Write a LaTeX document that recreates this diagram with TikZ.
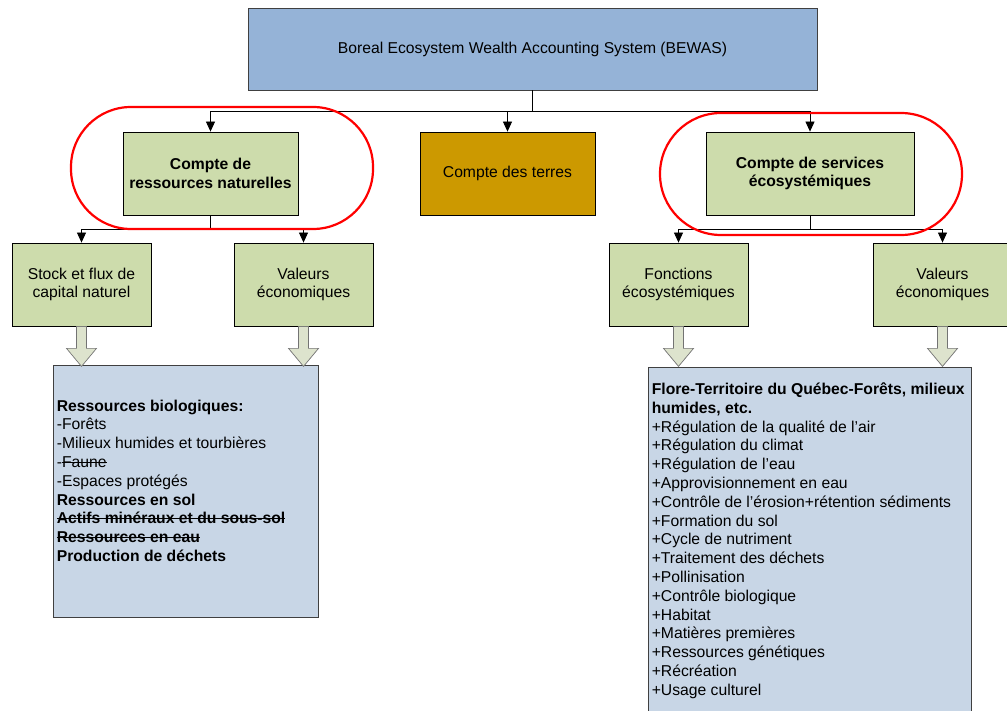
\documentclass[tikz,border=0pt]{standalone}
\usepackage{fontspec}
\setmainfont{Liberation Sans}
\usepackage{tikz}
\usetikzlibrary{arrows.meta,calc}

\definecolor{headblue}{RGB}{149,179,215}
\definecolor{acctgreen}{RGB}{205,220,172}
\definecolor{landgold}{RGB}{204,153,0}
\definecolor{listblue}{RGB}{200,214,230}
\definecolor{fatfill}{RGB}{221,227,205}

% struck-out text
\newcommand{\strikeout}[1]{\begingroup\setbox0\hbox{#1}\rlap{\rule[0.3em]{\wd0}{1.1pt}}\box0\endgroup}

% wide hollow arrow below a box
\newcommand{\fatarrow}[1]{%
  \draw[fatstyle] ($(#1.south)+(-5,0)$) -- ++(0,22) -- ++(-10,0) -- ++(15,18)
    -- ++(15,-18) -- ++(-10,0) -- ++(0,-22) -- cycle;}

\begin{document}
\begin{tikzpicture}[x=1pt, y=-1pt,
  font=\fontsize{15.7}{18.8}\selectfont,
  box/.style={draw=black, line width=0.8pt, align=center, inner sep=0pt},
  greenbox/.style={box, fill=acctgreen, minimum width=139pt, minimum height=83pt},
  listbox/.style={draw=black!75, line width=0.8pt, fill=listblue},
  listtext/.style={align=left, inner sep=0pt, anchor=north west},
  link/.style={line width=0.8pt, -{Triangle[length=10pt,width=9pt]}},
  fatstyle/.style={draw=black!55, line width=0.7pt, fill=fatfill},
  redloop/.style={draw=red, line width=2.2pt}]
  \useasboundingbox (0,0) rectangle (1007,711);

  % Top level
  \node[box, draw=black!75, fill=headblue, minimum width=569pt, minimum height=82pt] (top) at (532.5,49)
    {Boreal Ecosystem Wealth Accounting System (BEWAS)};

  % Accounts
  \node[greenbox, minimum width=175pt, font=\fontsize{15.7}{18.8}\selectfont\bfseries] (crn) at (210.5,173.5)
    {Compte de\\ressources naturelles};
  \node[box, fill=landgold, minimum width=175pt, minimum height=83pt] (terres) at (507.5,173.5)
    {Compte des terres};
  \node[greenbox, minimum width=208pt, font=\fontsize{15.7}{18.8}\selectfont\bfseries] (cse) at (810,173.5)
    {Compte de services\\écosystémiques};

  % Sub-accounts
  \node[greenbox] (stock) at (81.5,284.5) {Stock et flux de\\capital naturel};
  \node[greenbox] (valL) at (303.5,284.5) {Valeurs\\économiques};
  \node[greenbox] (fonc) at (678.5,284.5) {Fonctions\\écosystémiques};
  \node[greenbox] (valR) at (942.5,284.5) {Valeurs\\économiques};

  % Lists
  \node[listbox, minimum width=265pt, minimum height=252pt] (listL) at (185.5,491) {};
  \node[listbox, minimum width=323pt, minimum height=356pt] (listR) at (809.5,545) {};
  \node[listtext] (listLtext) at ($(listL.north west)+(4,35)$) {%
    \textbf{Ressources biologiques:}\\
    -Forêts\\
    -Milieux humides et tourbières\\
    -\strikeout{Faune}\\
    -Espaces protégés\\
    \textbf{Ressources en sol}\\
    \textbf{\strikeout{Actifs minéraux et du sous-sol}}\\
    \textbf{\strikeout{Ressources en eau}}\\
    \textbf{Production de déchets}};
  \node[listtext] (listRtext) at ($(listR.north west)+(4,16)$) {%
    \textbf{Flore-Territoire du Québec-Forêts, milieux}\\
    \textbf{humides, etc.}\\
    +Régulation de la qualité de l’air\\
    +Régulation du climat\\
    +Régulation de l’eau\\
    +Approvisionnement en eau\\
    +Contrôle de l’érosion+rétention sédiments\\
    +Formation du sol\\
    +Cycle de nutriment\\
    +Traitement des déchets\\
    +Pollinisation\\
    +Contrôle biologique\\
    +Habitat\\
    +Matières premières\\
    +Ressources génétiques\\
    +Récréation\\
    +Usage culturel};

  % Tree connectors
  \coordinate (topfork) at ($(top.south)+(0,21)$);
  \draw[line width=0.8pt] (top.south) -- (topfork);
  \draw[link] (topfork) -| (crn.north);
  \draw[link] (topfork) -| (terres.north);
  \draw[link] (topfork) -| (cse.north);

  \coordinate (leftfork) at ($(crn.south)+(0,14)$);
  \draw[line width=0.8pt] (crn.south) -- (leftfork);
  \draw[link] (leftfork) -| (stock.north);
  \draw[link] (leftfork) -| (valL.north);

  \coordinate (rightfork) at ($(cse.south)+(0,14)$);
  \draw[line width=0.8pt] (cse.south) -- (rightfork);
  \draw[link] (rightfork) -| (fonc.north);
  \draw[link] (rightfork) -| (valR.north);

  % Block arrows
  \fatarrow{stock}
  \fatarrow{valL}
  \fatarrow{fonc}
  \fatarrow{valR}

  % Highlight loops
  \draw[redloop, rounded corners=60pt] (71,107) rectangle (373,229);
  \draw[redloop, rounded corners=61pt] (660,113) rectangle (962,235);
\end{tikzpicture}
\end{document}
